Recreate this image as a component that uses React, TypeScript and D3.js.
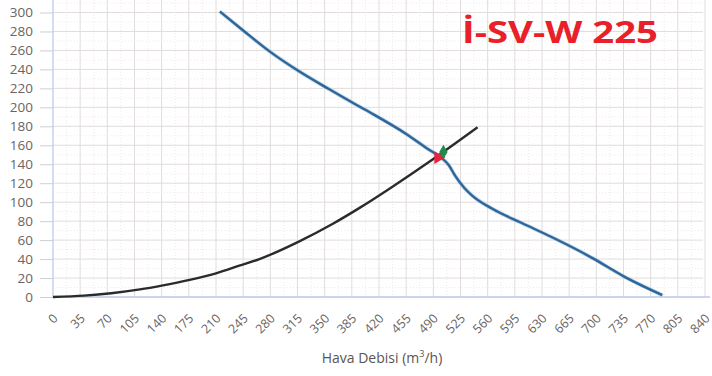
import { useEffect, useRef } from 'react';
import * as d3 from 'd3';

// fan curve (blue) - air flow m3/h vs pressure Pa
const fanFlow = [215, 245, 279, 317, 356, 390, 412, 455, 485, 500, 510, 518, 530, 540, 566, 604, 643, 677, 695, 737, 785];
const fanPressure = [301, 281, 259, 238, 219, 203, 193, 172, 155, 147, 139, 128, 115, 107, 93, 78, 63, 49, 41, 21, 2];

// system curve (black)
const sysFlow = [0, 40, 75, 112, 140, 176, 210, 240, 266, 318, 360, 395, 433, 489, 547];
const sysPressure = [0, 1.5, 4, 8, 12, 18, 25, 33, 40, 59, 77, 94, 114, 145, 179];

// operating point markers
const redPoint = { flow: 496, pressure: 147 };
const greenPoint = { flow: 503, pressure: 153 };

const xTicks = d3.range(0, 841, 35);
const yTicks = d3.range(0, 301, 20);

const title = 'İ-SV-W 225';
const xLabel = 'Hava Debisi (m';

export default function App() {
  const svgRef = useRef<SVGSVGElement>(null);

  useEffect(() => {
    if (!svgRef.current) return;
    const width = 712;
    const height = 376;

    const svg = d3.select(svgRef.current)
      .attr('width', width)
      .attr('height', height);
    svg.selectAll('*').remove();

    svg.append('rect')
      .attr('width', width)
      .attr('height', height)
      .attr('fill', '#ffffff');

    const x = d3.scaleLinear().domain([0, 840]).range([53, 705]);
    const y = d3.scaleLinear().domain([0, 300]).range([297, 12.5]);
    const plotTop = 0;
    const plotRight = 703;

    // minor grid
    const minorX = d3.range(17.5, 840, 35);
    const minorY = d3.range(10, 320, 20);
    svg.append('g')
      .selectAll('line')
      .data(minorX)
      .enter()
      .append('line')
      .attr('x1', d => x(d))
      .attr('x2', d => x(d))
      .attr('y1', plotTop)
      .attr('y2', y(0))
      .attr('stroke', '#eeeaea')
      .attr('stroke-dasharray', '1,2');
    svg.append('g')
      .selectAll('line')
      .data(minorY)
      .enter()
      .append('line')
      .attr('x1', x(0))
      .attr('x2', plotRight)
      .attr('y1', d => y(d))
      .attr('y2', d => y(d))
      .attr('stroke', '#eeeaea')
      .attr('stroke-dasharray', '1,2');

    // major grid
    svg.append('g')
      .selectAll('line')
      .data(xTicks.slice(1))
      .enter()
      .append('line')
      .attr('x1', d => x(d))
      .attr('x2', d => x(d))
      .attr('y1', plotTop)
      .attr('y2', y(0))
      .attr('stroke', '#e2dcdc');
    svg.append('g')
      .selectAll('line')
      .data(yTicks.slice(1))
      .enter()
      .append('line')
      .attr('x1', x(0))
      .attr('x2', plotRight)
      .attr('y1', d => y(d))
      .attr('y2', d => y(d))
      .attr('stroke', '#e2dcdc');

    // y axis
    const yAxis = svg.append('g')
      .attr('transform', `translate(${x(0)},0)`)
      .call(d3.axisLeft(y).tickValues(yTicks).tickSize(13).tickPadding(7));
    yAxis.select('.domain').remove();
    yAxis.selectAll('line').attr('stroke', '#cfcfd6');
    yAxis.selectAll('text')
      .attr('fill', '#6a6463')
      .attr('font-size', '13.5px')
      .attr('font-family', '"Open Sans", sans-serif');
    svg.append('line')
      .attr('x1', x(0))
      .attr('x2', x(0))
      .attr('y1', plotTop)
      .attr('y2', y(0))
      .attr('stroke', '#b9c9e6')
      .attr('stroke-width', 1.2);

    // x axis, labels rotated so their end sits under the tick
    const xAxis = svg.append('g')
      .attr('transform', `translate(0,${y(0)})`)
      .call(d3.axisBottom(x).tickValues(xTicks).tickSize(0));
    xAxis.select('.domain').remove();
    xAxis.selectAll('text')
      .attr('x', 0)
      .attr('y', 0)
      .attr('dy', '0.35em')
      .attr('fill', '#6a6463')
      .attr('font-size', '12.5px')
      .attr('font-family', '"Open Sans", sans-serif')
      .attr('text-anchor', 'end')
      .attr('transform', 'translate(2,19) rotate(-45)');
    svg.append('line')
      .attr('x1', x(0))
      .attr('x2', 710)
      .attr('y1', y(0))
      .attr('y2', y(0))
      .attr('stroke', '#b9c9e6')
      .attr('stroke-width', 1.5);

    // axis title
    const xt = svg.append('text')
      .attr('x', 382)
      .attr('y', 363)
      .attr('text-anchor', 'middle')
      .attr('fill', '#5a5554')
      .attr('font-size', '14px')
      .attr('font-family', '"Open Sans", sans-serif');
    xt.append('tspan').text(xLabel);
    xt.append('tspan').attr('font-size', '9px').attr('dy', -6).text('3');
    xt.append('tspan').attr('dy', 6).text('/h)');

    // curves
    const line = d3.line<[number, number]>()
      .x(d => x(d[0]))
      .y(d => y(d[1]))
      .curve(d3.curveMonotoneX);

    const sysData = sysFlow.map((f, i) => [f, sysPressure[i]] as [number, number]);
    const fanData = fanFlow.map((f, i) => [f, fanPressure[i]] as [number, number]);

    svg.append('path')
      .datum(sysData)
      .attr('fill', 'none')
      .attr('stroke', '#2b2b2b')
      .attr('stroke-width', 2.4)
      .attr('d', line);

    svg.append('path')
      .datum(fanData)
      .attr('fill', 'none')
      .attr('stroke', '#9ec0dc')
      .attr('stroke-width', 4)
      .attr('opacity', 0.6)
      .attr('d', line);
    svg.append('path')
      .datum(fanData)
      .attr('fill', 'none')
      .attr('stroke', '#2d6699')
      .attr('stroke-width', 2.4)
      .attr('d', line);

    // markers
    svg.append('path')
      .attr('d', d3.symbol(d3.symbolTriangle, 70)())
      .attr('transform', `translate(${x(redPoint.flow)},${y(redPoint.pressure)}) rotate(90)`)
      .attr('fill', '#e8243a');
    svg.append('path')
      .attr('d', d3.symbol(d3.symbolDiamond, 60)())
      .attr('transform', `translate(${x(greenPoint.flow)},${y(greenPoint.pressure)})`)
      .attr('fill', '#1f8a4c');

    // title
    svg.append('text')
      .attr('x', 462)
      .attr('y', 43)
      .attr('fill', '#e8202a')
      .attr('font-size', '31px')
      .attr('font-weight', 700)
      .attr('font-family', '"Open Sans", sans-serif')
      .attr('textLength', 196)
      .attr('lengthAdjust', 'spacingAndGlyphs')
      .text(title);
  }, []);

  return (
    <div style={{ position: 'absolute', left: 0, top: 0 }}>
      <svg ref={svgRef} style={{ display: 'block' }} />
    </div>
  );
}
